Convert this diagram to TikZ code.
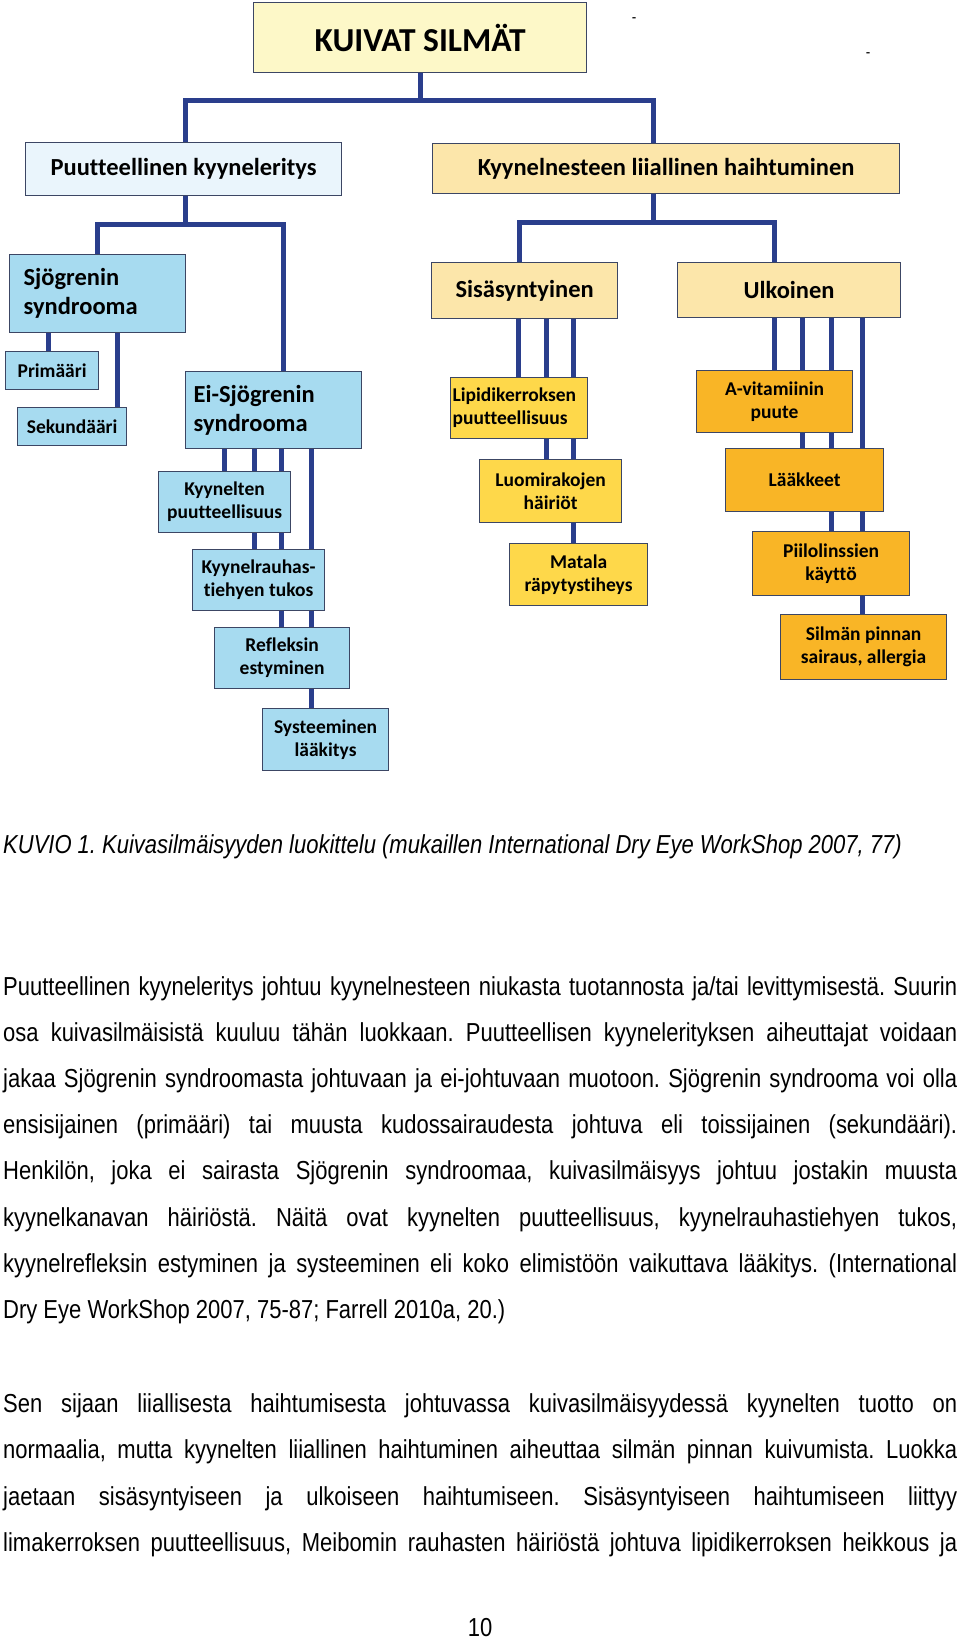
\documentclass[tikz,border=0pt]{standalone}
\usepackage{fontspec}
\setmainfont{Liberation Sans}[FakeStretch=0.846]
\newfontfamily\boxfont{Carlito}[Ligatures=NoCommon]
\usetikzlibrary{backgrounds}
\definecolor{conncol}{RGB}{42,62,140}
\definecolor{bordercol}{RGB}{60,70,100}
\definecolor{rootfill}{RGB}{253,248,200}
\definecolor{palebluefill}{RGB}{234,245,252}
\definecolor{peachfill}{RGB}{252,230,170}
\definecolor{bluefill}{RGB}{167,219,240}
\definecolor{yellowfill}{RGB}{254,216,74}
\definecolor{orangefill}{RGB}{249,181,38}
\tikzset{
  box/.style={draw=bordercol, line width=1.2pt, inner sep=0pt, anchor=north west, align=center},
  huge/.style={font=\boxfont\bfseries\fontsize{33.5pt}{38pt}\selectfont},
  big/.style={font=\boxfont\bfseries\fontsize{24.5pt}{29pt}\selectfont},
  small/.style={font=\boxfont\bfseries\fontsize{19.5pt}{23pt}\selectfont},
  conn/.style={draw=conncol, line width=5pt, line join=miter},
  bodytext/.style={font=\frenchspacing\fontsize{26pt}{30pt}\selectfont, inner sep=0pt, anchor=base west},
}
\frenchspacing
\begin{document}
\begin{tikzpicture}[x=1pt,y=-1pt]
\useasboundingbox (0,0) rectangle (960,1639);
% boxes
\node[box, huge, fill=rootfill, minimum width=333pt, minimum height=70pt] (root) at (253,2) {KUIVAT SILMÄT};
\node[box, big, fill=palebluefill, minimum width=316pt, minimum height=53pt] (puu) at (25,142) {Puutteellinen kyyneleritys};
\node[box, big, fill=peachfill, minimum width=467pt, minimum height=50pt] (kyy) at (432,143) {Kyynelnesteen liiallinen haihtuminen};
\node[box, big, fill=bluefill, inner xsep=14pt, text width=148pt, align=left, minimum height=78pt] (sjo) at (9,254) {Sjögrenin\\syndrooma};
\node[box, small, fill=bluefill, minimum width=93pt, minimum height=38pt] (prim) at (5,351) {Primääri};
\node[box, small, fill=bluefill, minimum width=109pt, minimum height=38pt] (sek) at (17,407) {Sekundääri};
\node[box, big, fill=bluefill, inner xsep=8pt, text width=160pt, align=left, minimum height=77pt] (eisjo) at (185,371) {Ei-Sjögrenin\\syndrooma};
\node[box, small, fill=bluefill, minimum width=132pt, minimum height=61pt] (kyyn) at (158,471) {Kyynelten\\puutteellisuus};
\node[box, small, fill=bluefill, minimum width=132pt, minimum height=61pt] (rauh) at (192,549) {Kyynelrauhas-\\tiehyen tukos};
\node[box, small, fill=bluefill, minimum width=135pt, minimum height=61pt] (refl) at (214,627) {Refleksin\\estyminen};
\node[box, small, fill=bluefill, minimum width=126pt, minimum height=62pt] (syst) at (262,708) {Systeeminen\\lääkitys};
\node[box, big, fill=peachfill, minimum width=186pt, minimum height=56pt] (sisa) at (431,262) {Sisäsyntyinen};
\node[box, big, fill=peachfill, minimum width=223pt, minimum height=55pt] (ulk) at (677,262) {Ulkoinen};
\node[box, small, fill=yellowfill, inner xsep=2pt, text width=133pt, align=left, minimum height=61pt] (lip) at (450,377) {Lipidikerroksen\\puutteellisuus};
\node[box, small, fill=yellowfill, minimum width=142pt, minimum height=63pt] (luo) at (479,459) {Luomirakojen\\häiriöt};
\node[box, small, fill=yellowfill, minimum width=138pt, minimum height=62pt] (mat) at (509,543) {Matala\\räpytystiheys};
\node[box, small, fill=orangefill, minimum width=156pt, minimum height=62pt] (avit) at (696,370) {A-vitamiinin\\puute};
\node[box, small, fill=orangefill, minimum width=158pt, minimum height=63pt] (laak) at (725,448) {Lääkkeet};
\node[box, small, fill=orangefill, minimum width=157pt, minimum height=64pt] (piil) at (752,531) {Piilolinssien\\käyttö};
\node[box, small, fill=orangefill, minimum width=166pt, minimum height=65pt] (silm) at (780,614) {Silmän pinnan\\sairaus, allergia};
% stray dashes
\node[font=\fontsize{16pt}{16pt}\selectfont, inner sep=0pt] (d1) at (634,20) {-};
\node[font=\fontsize{16pt}{16pt}\selectfont, inner sep=0pt] (d2) at (868,55) {-};
% caption and body text
\node[bodytext] (cap) at (3,853) {\itshape KUVIO 1. Kuivasilmäisyyden luokittelu (mukaillen International Dry Eye WorkShop 2007, 77)};
\node[bodytext] (a1) at (3,995) {\makebox[954pt][s]{Puutteellinen kyyneleritys johtuu kyynelnesteen niukasta tuotannosta ja/tai levittymisestä. Suurin}};
\node[bodytext] (a2) at (3,1041) {\makebox[954pt][s]{osa kuivasilmäisistä kuuluu tähän luokkaan. Puutteellisen kyynelerityksen aiheuttajat voidaan}};
\node[bodytext] (a3) at (3,1087) {\makebox[954pt][s]{jakaa Sjögrenin syndroomasta johtuvaan ja ei-johtuvaan muotoon. Sjögrenin syndrooma voi olla}};
\node[bodytext] (a4) at (3,1133) {\makebox[954pt][s]{ensisijainen (primääri) tai muusta kudossairaudesta johtuva eli toissijainen (sekundääri).}};
\node[bodytext] (a5) at (3,1179) {\makebox[954pt][s]{Henkilön, joka ei sairasta Sjögrenin syndroomaa, kuivasilmäisyys johtuu jostakin muusta}};
\node[bodytext] (a6) at (3,1226) {\makebox[954pt][s]{kyynelkanavan häiriöstä. Näitä ovat kyynelten puutteellisuus, kyynelrauhastiehyen tukos,}};
\node[bodytext] (a7) at (3,1272) {\makebox[954pt][s]{kyynelrefleksin estyminen ja systeeminen eli koko elimistöön vaikuttava lääkitys. (International}};
\node[bodytext] (a8) at (3,1318) {Dry Eye WorkShop 2007, 75-87; Farrell 2010a, 20.)};
\node[bodytext] (b1) at (3,1412) {\makebox[954pt][s]{Sen sijaan liiallisesta haihtumisesta johtuvassa kuivasilmäisyydessä kyynelten tuotto on}};
\node[bodytext] (b2) at (3,1458) {\makebox[954pt][s]{normaalia, mutta kyynelten liiallinen haihtuminen aiheuttaa silmän pinnan kuivumista. Luokka}};
\node[bodytext] (b3) at (3,1505) {\makebox[954pt][s]{jaetaan sisäsyntyiseen ja ulkoiseen haihtumiseen. Sisäsyntyiseen haihtumiseen liittyy}};
\node[bodytext] (b4) at (3,1551) {\makebox[954pt][s]{limakerroksen puutteellisuus, Meibomin rauhasten häiriöstä johtuva lipidikerroksen heikkous ja}};
\node[bodytext, anchor=base] (pnum) at (480,1636) {10};
% column coordinates and junctions
\coordinate (c48) at (48,0);
\coordinate (c97) at (97,0);
\coordinate (c117) at (117,0);
\coordinate (c185) at (185,0);
\coordinate (c224) at (224,0);
\coordinate (c254) at (254,0);
\coordinate (c281) at (281,0);
\coordinate (c283) at (283,0);
\coordinate (c311) at (311,0);
\coordinate (c518) at (518,0);
\coordinate (c519) at (519,0);
\coordinate (c546) at (546,0);
\coordinate (c573) at (573,0);
\coordinate (c653) at (653,0);
\coordinate (c774) at (774,0);
\coordinate (c802) at (802,0);
\coordinate (c831) at (831,0);
\coordinate (c862) at (862,0);
\coordinate (j1) at (419,100);
\coordinate (j2) at (185,224);
\coordinate (j3) at (653,222);
\begin{pgfonlayer}{background}
\fill[white] (0,0) rectangle (960,1639);
\draw[conn] (root.south) -- (root.south |- j1);
\draw[conn] (puu.north -| c185) |- (j1) -| (kyy.north -| c653);
\draw[conn] (puu.south -| c185) -- (j2);
\draw[conn] (sjo.north -| c97) |- (j2) -| (eisjo.north -| c283);
\draw[conn] (sjo.south -| c48) -- (prim.north -| c48);
\draw[conn] (sjo.south -| c117) -- (sek.north -| c117);
\draw[conn] (eisjo.south -| c224) -- (kyyn.north -| c224);
\draw[conn] (eisjo.south -| c254) -- (rauh.north -| c254);
\draw[conn] (eisjo.south -| c281) -- (refl.north -| c281);
\draw[conn] (eisjo.south -| c311) -- (syst.north -| c311);
\draw[conn] (kyy.south -| c653) -- (j3);
\draw[conn] (sisa.north -| c519) |- (j3) -| (ulk.north -| c774);
\draw[conn] (sisa.south -| c518) -- (lip.north -| c518);
\draw[conn] (sisa.south -| c546) -- (luo.north -| c546);
\draw[conn] (sisa.south -| c573) -- (mat.north -| c573);
\draw[conn] (ulk.south -| c774) -- (avit.north -| c774);
\draw[conn] (ulk.south -| c802) -- (laak.north -| c802);
\draw[conn] (ulk.south -| c831) -- (piil.north -| c831);
\draw[conn] (ulk.south -| c862) -- (silm.north -| c862);
\end{pgfonlayer}
\end{tikzpicture}
\end{document}
